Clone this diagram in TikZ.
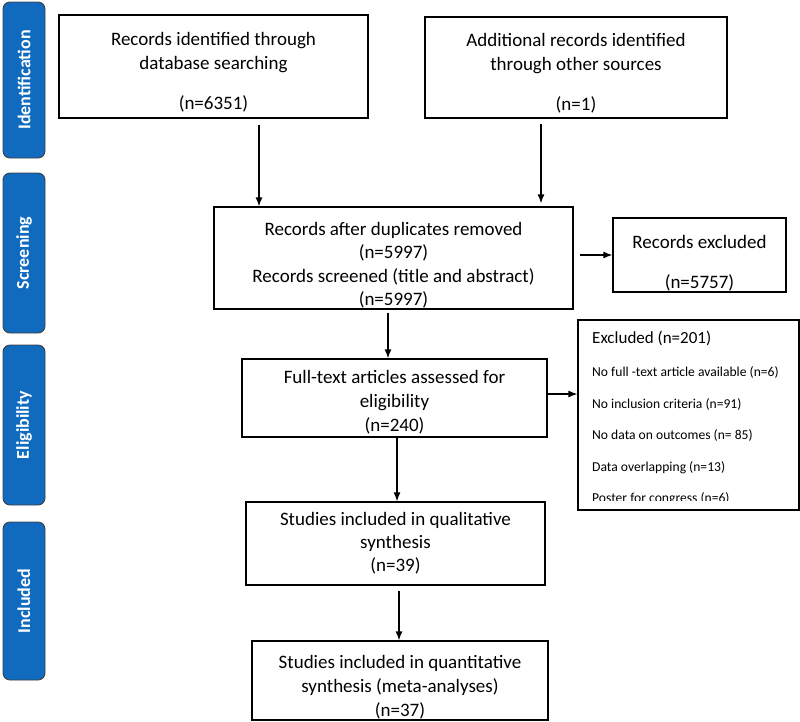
\documentclass[tikz,border=0pt]{standalone}
\usepackage{fontspec}
\setmainfont{Carlito}
\usetikzlibrary{arrows.meta}
\definecolor{stageblue}{RGB}{16,106,190}

\begin{document}
\begin{tikzpicture}[>={Latex[length=9pt,width=7pt]}, x=1pt, y=-1pt]
        \tikzset{
            stage/.style={draw=black!75, line width=0.9pt, fill=stageblue, rounded corners=7pt, rotate=90, minimum height=42pt, inner sep=0pt, text=white, font=\fontsize{18}{21}\selectfont\bfseries},
            box/.style={draw, line width=1.2pt, align=center, inner sep=0pt, font=\fontsize{19}{24}\selectfont},
            reason/.style={anchor=base west, inner sep=0pt, font=\fontsize{13.6}{16}\selectfont},
            flow/.style={->, line width=1.3pt}
        }
        \useasboundingbox (0,0) rectangle (800,721);

        \node[stage, minimum width=156pt] (ident) at (24,80)  {Identification};
        \node[stage, minimum width=160pt] (screen) at (24,253) {Screening};
        \node[stage, minimum width=160pt] (elig)  at (24,425) {Eligibility};
        \node[stage, minimum width=158pt] (incl)  at (24,601) {Included};

        \node[box, minimum width=309pt, minimum height=103pt] (db) at (213.5,66.5) {\rule{0pt}{24pt}Records identified through\\database searching\\[16pt](n=6351)};
        \node[box, minimum width=302pt, minimum height=101pt] (other) at (576,67.5) {\rule{0pt}{24pt}Additional records identified\\through other sources\\[16pt](n=1)};
        \node[box, minimum width=359pt, minimum height=102pt, font=\fontsize{19}{23.5}\selectfont] (dup) at (393.5,258) {\rule{0pt}{28pt}Records after duplicates removed\\(n=5997)\\Records screened (title and abstract)\\(n=5997)};
        \node[box, minimum width=173pt, minimum height=74pt, font=\fontsize{19}{40}\selectfont] (recex) at (699.5,255) {\rule{0pt}{30pt}Records excluded\\(n=5757)};
        \node[box, minimum width=305pt, minimum height=78pt] (full) at (394.5,398) {\rule{0pt}{22pt}Full-text articles assessed for\\eligibility\\(n=240)};
        \node[box, minimum width=221pt, minimum height=190pt] (fullex) at (688.5,415) {};
        \node[box, minimum width=299pt, minimum height=83pt, font=\fontsize{19}{23}\selectfont] (qual) at (395.5,543.5) {Studies included in qualitative\\synthesis\\(n=39)};
        \node[box, minimum width=296pt, minimum height=79pt] (quant) at (400,680.5) {\rule{0pt}{26pt}Studies included in quantitative\\synthesis (meta-analyses)\\(n=37)};

        \node[reason, font=\fontsize{17}{20}\selectfont] (exhead) at (592,343) {Excluded (n=201)};
        \begin{scope}
            \clip (580,322) rectangle (797,500);
            \foreach \why [count=\i] in {No full -text article available (n=6), No inclusion criteria (n=91), No data on outcomes (n= 85), Data overlapping (n=13), Poster for congress (n=6)}
                \node[reason] (why\i) at (592,345+31.5*\i) {\why};
        \end{scope}

        \draw[flow, shorten <=6pt] ([xshift=45.5pt]db.south) -- ([xshift=45.5pt]db.south |- dup.north);
        \draw[flow, shorten <=5pt, shorten >=3pt] ([xshift=-35pt]other.south) -- ([xshift=-35pt]other.south |- dup.north);
        \draw[flow, shorten <=6pt] (dup.east |- recex.west) -- (recex.west);
        \draw[flow, shorten <=3pt] ([xshift=-5.5pt]dup.south) -- ([xshift=-5.5pt]dup.south |- full.north);
        \draw[flow] ([yshift=4pt]full.east) -- ([yshift=4pt]full.east -| fullex.west);
        \draw[flow] ([xshift=2.5pt]full.south) -- ([xshift=2.5pt]full.south |- qual.north);
        \draw[flow, shorten <=5pt] ([xshift=3.5pt]qual.south) -- ([xshift=3.5pt]qual.south |- quant.north);
\end{tikzpicture}
\end{document}
